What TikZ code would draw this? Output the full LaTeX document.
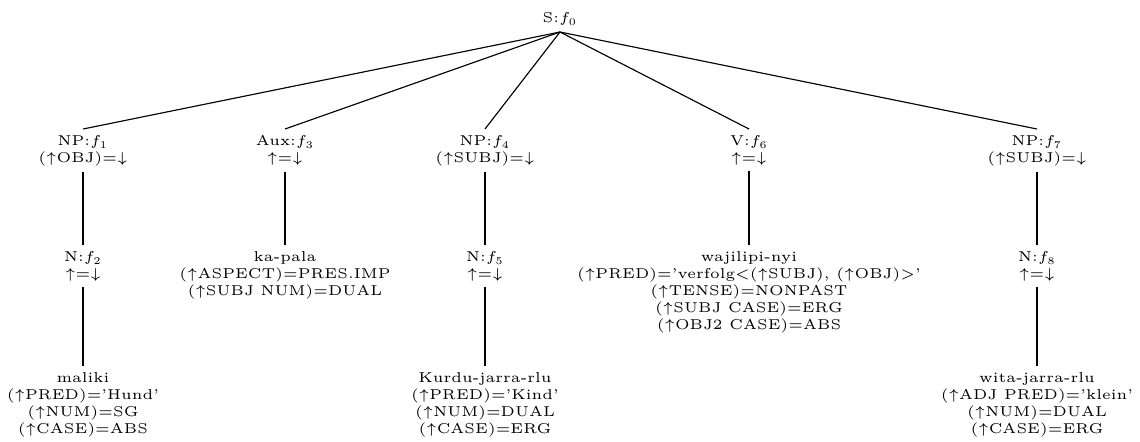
\documentclass[tikz,border=0pt]{standalone}
\newcommand{\fup}{$\uparrow$}
\newcommand{\fdown}{$\downarrow$}
\newcommand{\fn}[1]{$f_{\hbox{\fontsize{3.6}{4}\selectfont #1}}$}
\tikzset{
  cat/.style={align=center, inner sep=2pt, font=\tiny},
  branch/.style={line width=0.4pt}
}
\begin{document}
\begin{tikzpicture}[x=0.35pt,y=0.35pt,yscale=-1,xscale=1]
\useasboundingbox (0,0) rectangle (1140,441);

% Root
\node (s) [cat, anchor=south] at (560,32) {S:\fn{0}};

% Level 1
\node (np1) [cat, anchor=north] at (83,129) {NP:\fn{1}\\(\fup OBJ)=\fdown};
\node (aux3) [cat, anchor=north] at (285,129) {Aux:\fn{3}\\\fup=\fdown};
\node (np4) [cat, anchor=north] at (485,129) {NP:\fn{4}\\(\fup SUBJ)=\fdown};
\node (v6) [cat, anchor=north] at (749,129) {V:\fn{6}\\\fup=\fdown};
\node (np7) [cat, anchor=north] at (1037,129) {NP:\fn{7}\\(\fup SUBJ)=\fdown};

% Level 2
\node (n2) [cat, anchor=north] at (83,245) {N:\fn{2}\\\fup=\fdown};
\node (kapala) [cat, anchor=north] at (285,245) {ka-pala\\(\fup ASPECT)=PRES.IMP\\(\fup SUBJ NUM)=DUAL};
\node (n5) [cat, anchor=north] at (485,245) {N:\fn{5}\\\fup=\fdown};
\node (wajilipi) [cat, anchor=north] at (749,245) {wajilipi-nyi\\(\fup PRED)='verfolg<(\fup SUBJ), (\fup OBJ)>'\\(\fup TENSE)=NONPAST\\(\fup SUBJ CASE)=ERG\\(\fup OBJ2 CASE)=ABS};
\node (n8) [cat, anchor=north] at (1037,245) {N:\fn{8}\\\fup=\fdown};

% Level 3
\node (maliki) [cat, anchor=north] at (83,366) {maliki\\(\fup PRED)='Hund'\\(\fup NUM)=SG\\(\fup CASE)=ABS};
\node (kurdu) [cat, anchor=north] at (485,366) {Kurdu-jarra-rlu\\(\fup PRED)='Kind'\\(\fup NUM)=DUAL\\(\fup CASE)=ERG};
\node (wita) [cat, anchor=north] at (1037,366) {wita-jarra-rlu\\(\fup ADJ PRED)='klein'\\(\fup NUM)=DUAL\\(\fup CASE)=ERG};

% Branches
\foreach \c in {np1,aux3,np4,v6,np7}
  \draw [branch] (s.south) -- (\c.north);
\draw [branch] (np1.south) -- (n2.north);
\draw [branch] (aux3.south) -- (kapala.north);
\draw [branch] (np4.south) -- (n5.north);
\draw [branch] (v6.south) -- (wajilipi.north);
\draw [branch] (np7.south) -- (n8.north);
\draw [branch] (n2.south) -- (maliki.north);
\draw [branch] (n5.south) -- (kurdu.north);
\draw [branch] (n8.south) -- (wita.north);

\end{tikzpicture}
\end{document}
